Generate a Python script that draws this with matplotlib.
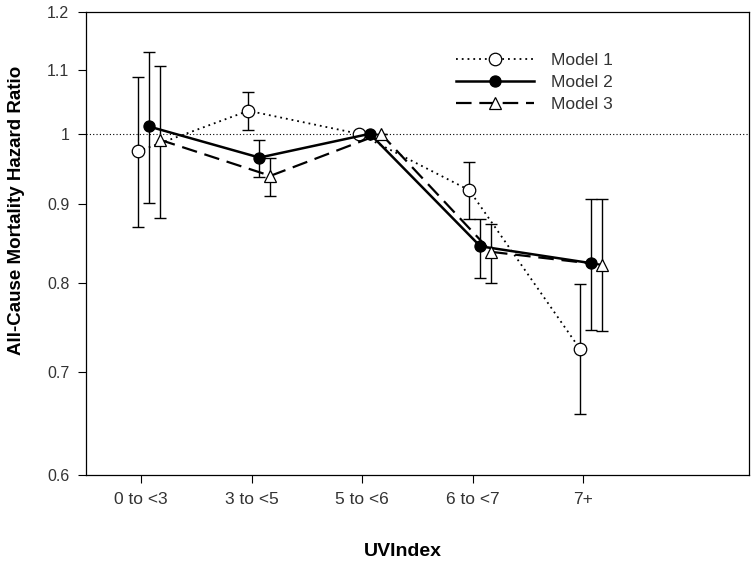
import numpy as np
import matplotlib
matplotlib.use('Agg')
from matplotlib import pyplot as plt
from matplotlib.ticker import FixedLocator, NullLocator

plt.rcParams['font.family'] = ['Liberation Sans', 'DejaVu Sans']

categories = ['0 to <3', '3 to <5', '5 to <6', '6 to <7', '7+']

model1 = [0.974, 1.035, 1.000, 0.919, 0.725]
model1_lo = [0.870, 1.006, 1.000, 0.880, 0.657]
model1_hi = [1.088, 1.064, 1.000, 0.959, 0.799]

model2 = [1.011, 0.965, 1.000, 0.845, 0.824]
model2_lo = [0.901, 0.937, 1.000, 0.806, 0.745]
model2_hi = [1.130, 0.991, 1.000, 0.880, 0.907]

model3 = [0.991, 0.939, 1.000, 0.838, 0.822]
model3_lo = [0.882, 0.911, 1.000, 0.800, 0.744]
model3_hi = [1.106, 0.964, 1.000, 0.874, 0.907]

y_ticks = [0.6, 0.7, 0.8, 0.9, 1.0, 1.1, 1.2]
y_tick_labels = ['0.6', '0.7', '0.8', '0.9', '1', '1.1', '1.2']


def draw_model(ax, x, vals, lo, hi, label, ls, marker, face, lw, ms):
    vals = np.array(vals)
    err = [vals - np.array(lo), np.array(hi) - vals]
    ax.errorbar(x, vals, yerr=err, fmt='none', ecolor='black', elinewidth=1.0,
                capsize=4.5, capthick=1.0, zorder=2)
    ax.plot(x, vals, linestyle=ls, color='black', linewidth=lw, marker=marker,
            markersize=ms, markerfacecolor=face, markeredgecolor='black',
            markeredgewidth=0.9, label=label, zorder=3)


fig = plt.figure(figsize=(7.51, 5.69), dpi=100)
ax = fig.add_axes([0.1145, 0.165, 0.8825, 0.814])

pos = np.arange(1, len(categories) + 1)
ax.axhline(1.0, color='black', linestyle=(0, (1, 2)), linewidth=0.8, zorder=1)

draw_model(ax, pos - 0.03, model1, model1_lo, model1_hi, 'Model 1', (0, (1, 2.2)), 'o', 'white', 1.3, 9)
draw_model(ax, pos + 0.07, model2, model2_lo, model2_hi, 'Model 2', '-', 'o', 'black', 1.8, 8)
draw_model(ax, pos + 0.17, model3, model3_lo, model3_hi, 'Model 3', (0, (7, 3.5)), '^', 'white', 1.6, 9)

ax.set_yscale('log')
ax.set_ylim(0.6, 1.2)
ax.set_xlim(0.5, 6.5)
ax.yaxis.set_major_locator(FixedLocator(y_ticks))
ax.yaxis.set_minor_locator(NullLocator())
ax.set_yticklabels(y_tick_labels)
ax.set_xticks(pos)
ax.set_xticklabels(categories)
ax.tick_params(axis='both', direction='out', length=6, width=0.8, colors='black',
               labelcolor='#333333')
ax.tick_params(axis='x', pad=6, labelsize=12.5)
ax.tick_params(axis='y', pad=6, labelsize=11.5)

for s in ax.spines.values():
    s.set_linewidth(0.9)

ax.set_xlabel('UVIndex', fontsize=14, fontweight='bold')
ax.xaxis.set_label_coords(0.478, -0.147)
ax.set_ylabel('All-Cause Mortality Hazard Ratio', fontsize=13.5, fontweight='bold')
ax.yaxis.set_label_coords(-0.092, 0.572)

leg = ax.legend(loc='upper left', bbox_to_anchor=(0.558, 0.912), frameon=False,
                fontsize=12.5, handlelength=4.5, handletextpad=1.0, labelspacing=0.41,
                borderpad=0, borderaxespad=0)
for t in leg.get_texts():
    t.set_color('#333333')

fig.savefig('out.png', dpi=100)
